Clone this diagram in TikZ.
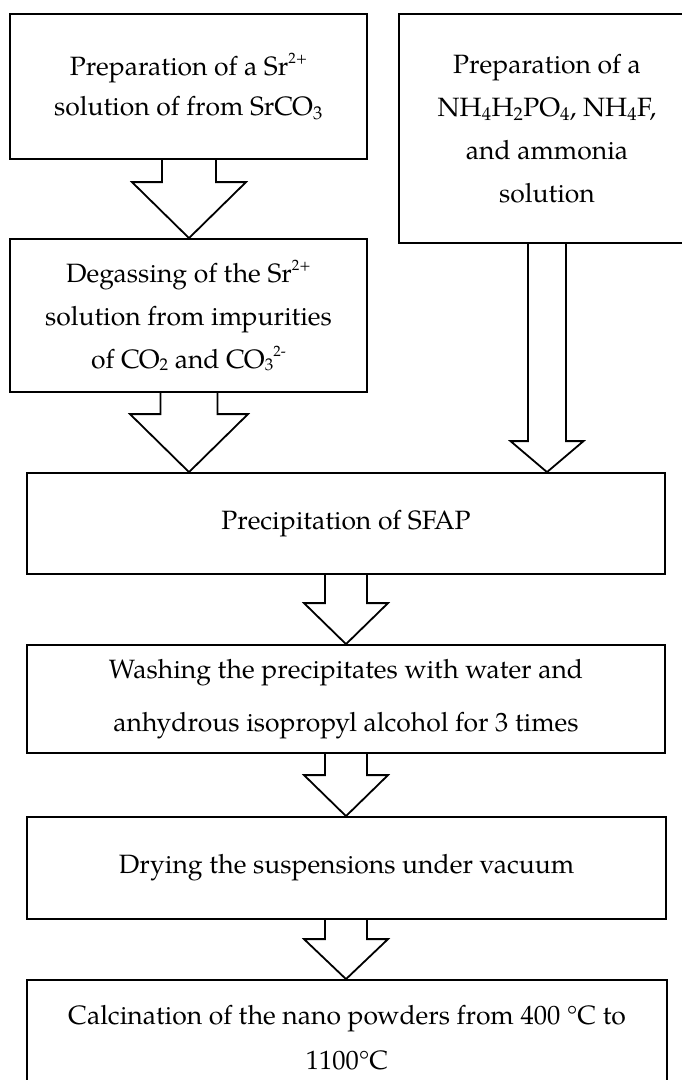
\documentclass[tikz,border=0pt]{standalone}
\usepackage{fontspec}
\setmainfont{texgyrepagella}[Extension=.otf, UprightFont=*-regular, BoldFont=*-bold, ItalicFont=*-italic, BoldItalicFont=*-bolditalic]
\usetikzlibrary{calc}
\tikzset{
  box/.style={draw, line width=1.8pt, fill=white, align=center, inner sep=0pt,
    font=\fontsize{26.5}{40}\selectfont},
  blockarr/.style={draw, line width=1.8pt, line join=miter},
}
% #1 from node, #2 to node, #3 x centre, #4 shaft half width, #5 head half width, #6 head length
\newcommand\blockarrow[6]{%
  \path (#3,0 |- #1.south) coordinate (ba-s) (#3,0 |- #2.north) coordinate (ba-t);
  \draw[blockarr] ($(ba-s)+(-#4,0)$) -- ($(ba-t)+(-#4,-#6)$) -- ($(ba-t)+(-#5,-#6)$)
    -- (ba-t) -- ($(ba-t)+(#5,-#6)$) -- ($(ba-t)+(#4,-#6)$) -- ($(ba-s)+(#4,0)$);
}
\newcommand\smsup[1]{\raisebox{0.45em}{\fontsize{15}{15}\selectfont #1}}
\newcommand\smsub[1]{\raisebox{-0.05em}{\fontsize{17}{17}\selectfont #1}}
\begin{document}
\begin{tikzpicture}[x=1pt,y=-1pt]
\useasboundingbox (0,0) rectangle (682,1080);
\clip (0,0) rectangle (682,1080);
\node[box, minimum width=357pt, minimum height=145pt] (b1) at (188.5,86.5)
  {Preparation of a Sr\smsup{2+}\\solution of from SrCO\textsubscript{3}};
\node[box, minimum width=296pt, minimum height=229pt, font=\fontsize{26.5}{43}\selectfont] (b2) at (547,128.5)
  {Preparation of a\\NH\textsubscript{4}H\textsubscript{2}PO\textsubscript{4}, NH\textsubscript{4}F,\\and ammonia\\solution};
\node[box, minimum width=357pt, minimum height=153pt, font=\fontsize{26.5}{43}\selectfont] (b3) at (188.5,315.5)
  {Degassing of the Sr\smsup{2+}\\solution from impurities\\of CO\smsub{2} and CO\smsub{3}\smsup{2-}};
\node[box, minimum width=638pt, minimum height=101pt] (b4) at (346,523.5)
  {Precipitation of SFAP};
\node[box, minimum width=638pt, minimum height=108pt, font=\fontsize{26.5}{53}\selectfont] (b5) at (346,699)
  {Washing the precipitates with water and\\anhydrous isopropyl alcohol for 3 times};
\node[box, minimum width=639pt, minimum height=102pt] (b6) at (346.5,868)
  {Drying the suspensions under vacuum};
\node[box, minimum width=640pt, minimum height=116pt, font=\fontsize{26.5}{45}\selectfont] (b7) at (347,1038)
  {Calcination of the nano powders from 400 °C to\\1100°C};
\blockarrow{b1}{b3}{189}{27}{57}{56}
\blockarrow{b3}{b4}{189}{28.5}{59}{58}
\blockarrow{b2}{b4}{547}{19}{36.5}{31}
\blockarrow{b4}{b5}{346}{21}{42}{41}
\blockarrow{b5}{b6}{346}{21}{42}{41}
\blockarrow{b6}{b7}{346}{21}{42}{40}
\end{tikzpicture}
\end{document}
